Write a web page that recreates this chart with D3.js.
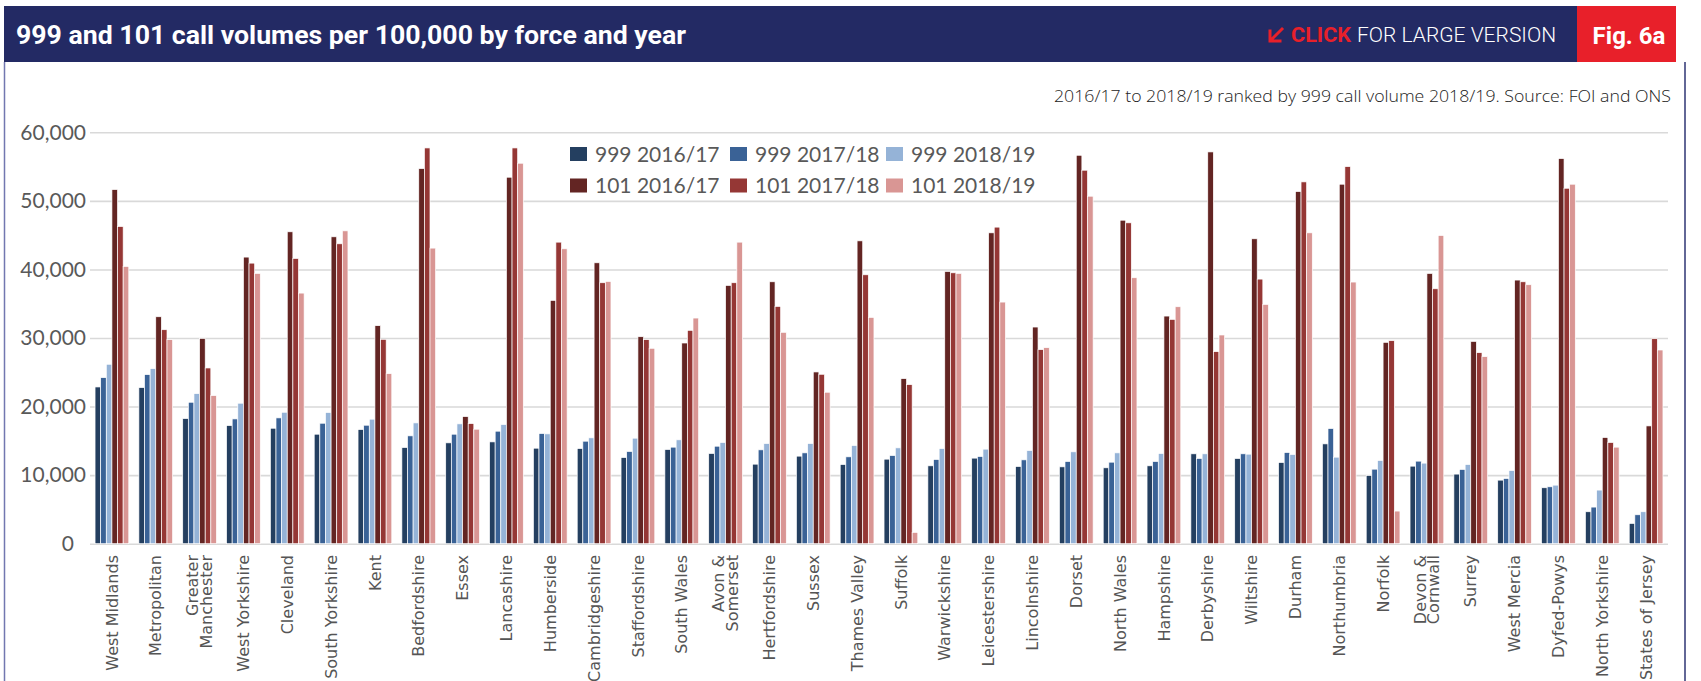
<!DOCTYPE html>
<html>
<head>
<meta charset="utf-8">
<script src="https://cdn.jsdelivr.net/npm/d3@7/dist/d3.min.js"></script>
<style>
  html, body { margin: 0; padding: 0; background: #fff; }
  svg { display: block; }
</style>
</head>
<body>
<svg id="chart" width="1701" height="681"></svg>
<script>
// Police forces, ranked by 999 call volume in 2018/19
const forces = [
  "West Midlands", "Metropolitan", "Greater Manchester", "West Yorkshire", "Cleveland",
  "South Yorkshire", "Kent", "Bedfordshire", "Essex", "Lancashire", "Humberside",
  "Cambridgeshire", "Staffordshire", "South Wales", "Avon & Somerset", "Hertfordshire",
  "Sussex", "Thames Valley", "Suffolk", "Warwickshire", "Leicestershire", "Lincolnshire",
  "Dorset", "North Wales", "Hampshire", "Derbyshire", "Wiltshire", "Durham", "Northumbria",
  "Norfolk", "Devon & Cornwall", "Surrey", "West Mercia", "Dyfed-Powys", "North Yorkshire",
  "States of Jersey"
];

// Calls per 100,000 population
const calls999_1617 = [22860, 22770, 18250, 17230, 16840, 15970, 16650, 14030, 14710, 14850, 13930, 13880, 12570, 13740, 13160, 11600, 12770, 11550, 12330, 11360, 12480, 11260, 11210, 11070, 11360, 13110, 12430, 11840, 14560, 9950, 11310, 10150, 9270, 8160, 4660, 2960];
const calls999_1718 = [24220, 24660, 20630, 18200, 18350, 17570, 17280, 15730, 15970, 16410, 16070, 14950, 13450, 14080, 14220, 13690, 13250, 12670, 12860, 12280, 12720, 12230, 11990, 11890, 11990, 12430, 13110, 13300, 16800, 10870, 12040, 10830, 9510, 8300, 5340, 4220];
const calls999_1819 = [26170, 25530, 21890, 20490, 19170, 19130, 18160, 17620, 17480, 17380, 16020, 15440, 15390, 15150, 14760, 14610, 14610, 14320, 13980, 13880, 13790, 13590, 13400, 13250, 13160, 13110, 13060, 13010, 12620, 12140, 11750, 11550, 10680, 8540, 7820, 4660];
const calls101_1617 = [51650, 33100, 29950, 41800, 45490, 44760, 31800, 54710, 18540, 53450, 35490, 40970, 30190, 29270, 37670, 38200, 25050, 44170, 24080, 39710, 45340, 31600, 56650, 47180, 33200, 57140, 44470, 51360, 52430, 29370, 39420, 29510, 38450, 56170, 15490, 17180];
const calls101_1718 = [46260, 31210, 25630, 40920, 41600, 43740, 29810, 57720, 17520, 57720, 43980, 38060, 29760, 31120, 38060, 34610, 24710, 39220, 23200, 39510, 46170, 28300, 54470, 46800, 32720, 28010, 38590, 52770, 55000, 29610, 37180, 27860, 38200, 51840, 14760, 29900];
const calls101_1819 = [40440, 29760, 21600, 39420, 36550, 45630, 24800, 43110, 16700, 55490, 43010, 38250, 28500, 32910, 43980, 30830, 22090, 33010, 1650, 39420, 35240, 28590, 50680, 38790, 34560, 30440, 34900, 45340, 38160, 4760, 44950, 27280, 37770, 52430, 14080, 28250];

const seriesNames = ["999 2016/17", "999 2017/18", "999 2018/19", "101 2016/17", "101 2017/18", "101 2018/19"];
const seriesValues = [calls999_1617, calls999_1718, calls999_1819, calls101_1617, calls101_1718, calls101_1819];
const seriesColors = ["#243f60", "#3a6296", "#95b3d7", "#632523", "#953735", "#d99694"];

const yTicks = [0, 10000, 20000, 30000, 40000, 50000, 60000];

// Two-line category labels
const labelBreaks = {
  "Greater Manchester": ["Greater", "Manchester"],
  "Avon & Somerset": ["Avon &", "Somerset"],
  "Devon & Cornwall": ["Devon &", "Cornwall"]
};

const svg = d3.select("#chart");
const navy = "#232a64";
const red = "#e8202a";

function fit(sel, w) {
  const n = sel.node().getComputedTextLength();
  if (Math.abs(n - w) > 1.5) sel.attr("textLength", w).attr("lengthAdjust", "spacingAndGlyphs");
}

// ---- header band ----
svg.append("rect").attr("x", 4).attr("y", 6).attr("width", 1573).attr("height", 56).attr("fill", navy);
svg.append("rect").attr("x", 1577).attr("y", 6).attr("width", 99).attr("height", 56).attr("fill", red);

const title = svg.append("text")
  .attr("x", 16).attr("y", 44)
  .attr("font-family", "Roboto, 'Open Sans', sans-serif")
  .attr("font-weight", 700).attr("font-size", 26)
  .attr("fill", "#fff")
  .text("999 and 101 call volumes per 100,000 by force and year");
fit(title, 670);

// arrow icon
svg.append("path")
  .attr("d", "M1282,29 L1272,39 M1270,31 L1270,41 L1280,41")
  .attr("fill", "none").attr("stroke", red).attr("stroke-width", 3)
  .attr("stroke-linecap", "square");

const click = svg.append("text")
  .attr("x", 1291).attr("y", 42)
  .attr("font-family", "Roboto, sans-serif").attr("font-weight", 700).attr("font-size", 21)
  .attr("fill", red).text("CLICK");
fit(click, 60);

const large = svg.append("text")
  .attr("x", 1357).attr("y", 42)
  .attr("font-family", "Roboto, sans-serif").attr("font-weight", 300).attr("font-size", 21)
  .attr("fill", "#fff").text("FOR LARGE VERSION");
fit(large, 200);

const fig = svg.append("text")
  .attr("x", 1629).attr("y", 44).attr("text-anchor", "middle")
  .attr("font-family", "Roboto, sans-serif").attr("font-weight", 700).attr("font-size", 24)
  .attr("fill", "#fff").text("Fig. 6a");
fit(fig, 72);

// frame sides
svg.append("line").attr("x1", 4.5).attr("x2", 4.5).attr("y1", 62).attr("y2", 681)
  .attr("stroke", "#7277b0").attr("stroke-width", 1.5);
svg.append("line").attr("x1", 1685).attr("x2", 1685).attr("y1", 62).attr("y2", 681)
  .attr("stroke", "#2e3573").attr("stroke-width", 1.5);

const sub = svg.append("text")
  .attr("x", 1671).attr("y", 102).attr("text-anchor", "end")
  .attr("font-family", "'Open Sans', sans-serif").attr("font-weight", 300).attr("font-size", 17)
  .attr("fill", "#222").text("2016/17 to 2018/19 ranked by 999 call volume 2018/19. Source: FOI and ONS");
fit(sub, 617);

// ---- plot ----
const plotLeft = 90, plotRight = 1668, plotTop = 132.3, plotBottom = 543.7;

const x = d3.scaleBand().domain(forces).range([plotLeft, plotRight])
  .paddingInner(0.23).paddingOuter(0.115);
const xs = d3.scaleBand().domain(seriesNames).range([0, x.bandwidth()]);
const y = d3.scaleLinear().domain([0, 60000]).range([plotBottom, plotTop]);

const yAxis = svg.append("g")
  .attr("transform", `translate(${plotLeft},0)`)
  .call(d3.axisLeft(y).tickValues(yTicks).tickSize(-(plotRight - plotLeft)).tickPadding(4)
    .tickFormat(d3.format(",")));
yAxis.select(".domain").remove();
yAxis.selectAll(".tick line").attr("stroke", "#d9d9d9").attr("stroke-width", 1.6);
yAxis.selectAll(".tick text")
  .attr("font-family", "Lato, 'Open Sans', sans-serif").attr("font-size", 21)
  .attr("fill", "#595959");
yAxis.selectAll(".tick").filter(d => d === 0).select("text").attr("x", -16);

// bars
const rows = forces.map((f, i) => ({ force: f, values: seriesNames.map((s, k) => ({ series: s, k, value: seriesValues[k][i] })) }));

svg.append("g").selectAll("g")
  .data(rows).join("g")
  .attr("transform", d => `translate(${x(d.force)},0)`)
  .selectAll("rect")
  .data(d => d.values).join("rect")
  .attr("x", d => xs(d.series))
  .attr("y", d => y(d.value))
  .attr("width", xs.bandwidth())
  .attr("height", d => y(0) - y(d.value))
  .attr("fill", d => seriesColors[d.k])
  .attr("stroke", "#fff").attr("stroke-width", 0.7);

// category labels
const catG = svg.append("g");
forces.forEach(f => {
  const cx = x(f) + x.bandwidth() / 2;
  const lines = labelBreaks[f] || [f];
  const t = catG.append("text")
    .attr("transform", `translate(${cx},555) rotate(-90)`)
    .attr("text-anchor", "end")
    .attr("font-family", "'DejaVu Sans', Verdana, sans-serif").attr("font-size", 16)
    .attr("fill", "#555");
  if (lines.length === 1) {
    t.append("tspan").attr("x", 0).attr("dy", "0.35em").text(lines[0]);
  } else {
    t.append("tspan").attr("x", 0).attr("y", -1.2).text(lines[0]);
    t.append("tspan").attr("x", 0).attr("y", 12.4).text(lines[1]);
  }
});

// legend
const legCols = [570, 730, 886];
const legRows = [154, 185.5];
const leg = svg.append("g");
seriesNames.forEach((s, k) => {
  const lx = legCols[k % 3], ly = legRows[Math.floor(k / 3)];
  leg.append("rect").attr("x", lx).attr("y", ly - 7).attr("width", 17).attr("height", 14)
    .attr("fill", seriesColors[k]);
  leg.append("text").attr("x", lx + 25).attr("y", ly).attr("dy", "0.36em")
    .attr("font-family", "Lato, 'Open Sans', sans-serif").attr("font-size", 21)
    .attr("fill", "#595959").text(s);
});
</script>
</body>
</html>
